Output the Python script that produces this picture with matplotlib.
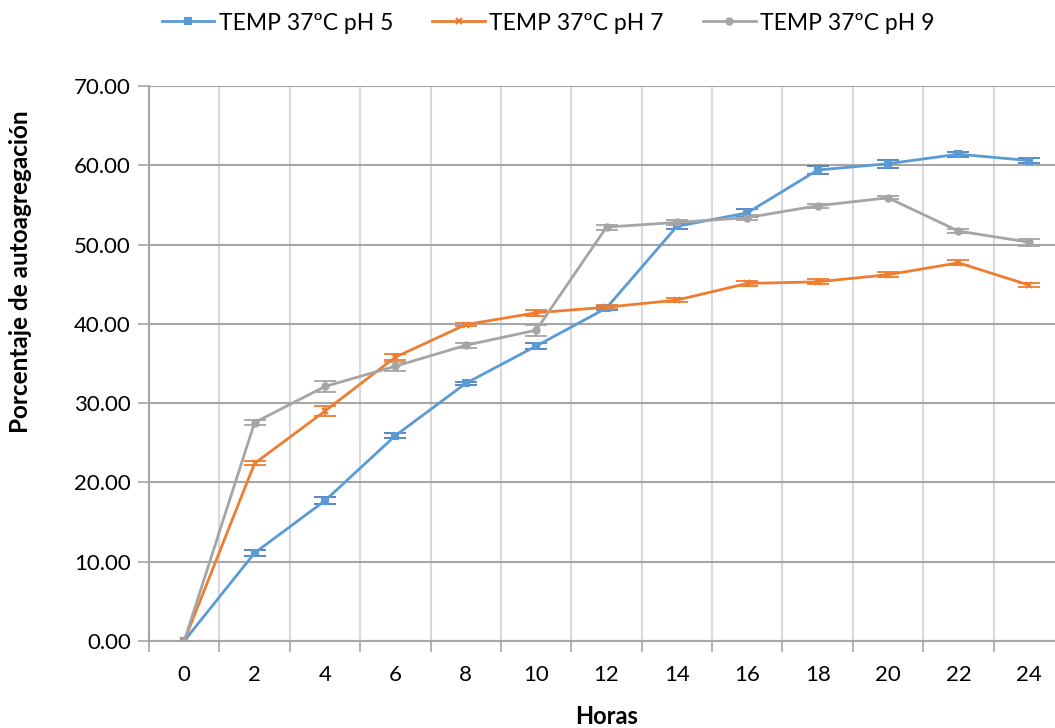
import numpy as np
import matplotlib
matplotlib.use("Agg")
import matplotlib.pyplot as plt

hours = ["0", "2", "4", "6", "8", "10", "12", "14", "16", "18", "20", "22", "24"]
ph5 = [0.0, 11.1, 17.7, 25.9, 32.5, 37.2, 42.0, 52.3, 54.0, 59.4, 60.2, 61.4, 60.6]
ph5_err = [0.0, 0.4, 0.4, 0.3, 0.2, 0.4, 0.3, 0.38, 0.46, 0.46, 0.48, 0.3, 0.35]
ph7 = [0.0, 22.4, 29.0, 35.8, 39.9, 41.4, 42.1, 43.0, 45.1, 45.3, 46.2, 47.7, 44.9]
ph7_err = [0.0, 0.25, 0.6, 0.35, 0.2, 0.35, 0.25, 0.25, 0.35, 0.3, 0.35, 0.3, 0.2]
ph9 = [0.0, 27.55, 32.1, 34.65, 37.3, 39.2, 52.2, 52.8, 53.4, 54.9, 55.9, 51.7, 50.3]
ph9_err = [0.0, 0.35, 0.7, 0.57, 0.3, 0.67, 0.3, 0.35, 0.3, 0.25, 0.2, 0.3, 0.45]
labels = ["TEMP 37ºC pH 5", "TEMP 37ºC pH 7", "TEMP 37ºC pH 9"]
yticks = [0, 10, 20, 30, 40, 50, 60, 70]

plt.rcParams['font.family'] = ['Lato', 'DejaVu Sans']

W, H = 1055, 728
fig = plt.figure(figsize=(W / 100, H / 100), dpi=100)
ax = fig.add_axes([149 / W, (H - 641) / H, 915 / W, 555 / H])

x = np.arange(len(hours))
series = [
    (ph5, ph5_err, "#5B9BD5", "#4A7FC1", "s", 4.5),
    (ph7, ph7_err, "#ED7D31", "#ED7D31", "x", 5),
    (ph9, ph9_err, "#A5A5A5", "#A5A5A5", "o", 4.5),
]
handles = []
for (vals, err, col, ecol, mk, ms), lab in zip(series, labels):
    ax.errorbar(x, vals, yerr=err, fmt="none", ecolor=ecol, elinewidth=1.3,
                capsize=8, capthick=1.3, zorder=3)
    h, = ax.plot(x, vals, color=col, lw=2, marker=mk, ms=ms, mew=1.5,
                 mfc=col, mec=col, label=lab, zorder=4)
    handles.append(h)

ax.set_xlim(-0.5, len(hours) - 0.5)
ax.set_ylim(0, 70)
ax.set_yticks(yticks)
ax.set_yticklabels([f"{v:.2f}" for v in yticks])
ax.set_xticks(x)
ax.set_xticklabels(hours)
ax.set_xticks(np.arange(len(hours) + 1) - 0.5, minor=True)

ax.tick_params(axis="x", which="major", length=0, pad=17, labelsize=16, colors="#000000")
ax.tick_params(axis="x", which="minor", length=8, width=1.2, color="#A6A6A6")
ax.tick_params(axis="y", which="major", length=8, width=1.2, color="#A6A6A6", pad=5,
               labelsize=16)

ax.grid(axis="y", which="major", color="#A6A6A6", lw=1.5, zorder=0)
ax.grid(axis="x", which="minor", color="#D9D9D9", lw=1.5, zorder=0)
ax.set_axisbelow(True)

for s in ["top", "right"]:
    ax.spines[s].set_visible(False)
for s in ["left", "bottom"]:
    ax.spines[s].set_color("#A6A6A6")
    ax.spines[s].set_linewidth(1.5)

fig.text(21 / W, (H - 272) / H, "Porcentaje de autoagregación", rotation=90,
         ha="center", va="center", fontsize=17.5, fontweight="bold")
fig.text(607 / W, (H - 717) / H, "Horas", ha="center", va="center",
         fontsize=17, fontweight="bold")

fig.legend(handles=handles, labels=labels, loc="center", ncol=3,
           bbox_to_anchor=(548 / W, (H - 23) / H), frameon=False,
           fontsize=16.5, handlelength=2.3, handletextpad=0.2, columnspacing=1.7)

fig.savefig("out.png", dpi=100)
